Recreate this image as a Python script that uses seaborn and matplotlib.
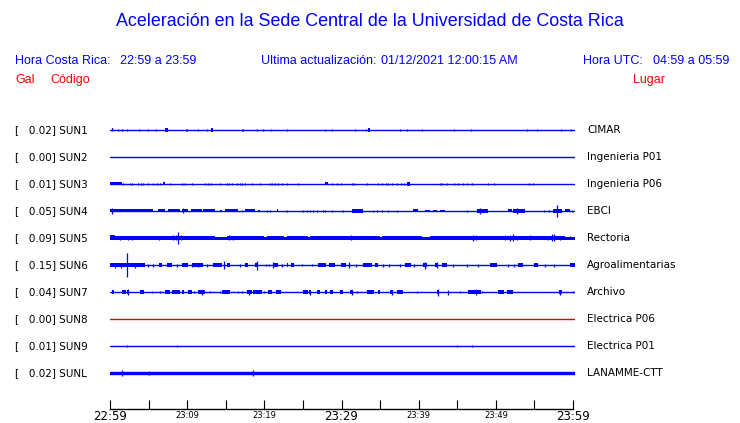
import numpy as np
import pandas as pd
import seaborn as sns
import matplotlib
matplotlib.use("Agg")
import matplotlib.pyplot as plt

# stations (top to bottom)
codes = ["SUN1", "SUN2", "SUN3", "SUN4", "SUN5", "SUN6", "SUN7", "SUN8", "SUN9", "SUNL"]
places = ["CIMAR", "Ingenieria P01", "Ingenieria P06", "EBCI", "Rectoria",
          "Agroalimentarias", "Archivo", "Electrica P06", "Electrica P01", "LANAMME-CTT"]
gal_max = [0.02, 0.00, 0.01, 0.05, 0.09, 0.15, 0.04, 0.00, 0.01, 0.02]
trace_colors = ["blue"] * 7 + ["#dd0000"] + ["blue"] * 2

# time axis (minutes after 22:59)
tick_minutes = list(range(0, 61, 5))
tick_labels = ["22:59", "", "23:09", "", "23:19", "", "23:29", "", "23:39", "", "23:49", "", "23:59"]
big_labels = ["22:59", "23:29", "23:59"]

# half-thickness of the quiet trace (display amplitude)
base_half = [0.6, 0.6, 0.6, 0.6, 1.5, 0.6, 0.6, 0.6, 0.6, 1.7]

# spikes: (minute, half amplitude)
sun1_spikes = [(0.30, 1.5), (1.08, 1.0), (1.59, 1.0), (2.24, 1.3), (3.78, 1.3), (4.95, 1.3),
               (5.94, 1.3), (9.76, 1.3), (9.94, 1.3), (11.40, 1.3), (12.47, 1.0), (16.99, 1.0),
               (17.20, 1.3), (19.01, 1.3), (19.78, 1.3), (20.82, 1.3), (22.88, 1.3), (27.78, 1.3),
               (28.60, 1.0), (31.66, 1.3), (33.08, 1.3), (37.46, 1.0), (38.37, 1.0), (40.30, 1.3),
               (44.43, 1.3), (46.54, 1.3), (53.85, 1.3), (55.14, 1.3), (58.24, 1.3), (59.53, 1.3)]
sun1_bands = [(0.20, 0.45, 1.5), (7.10, 7.45, 2.0), (13.00, 13.25, 2.0), (33.35, 33.60, 2.0)]

sun2_spikes = []
sun2_bands = []

sun3_spikes = [(1.72, 1.2), (2.58, 1.2), (2.80, 1.2), (3.66, 1.2), (4.00, 1.2), (4.30, 1.2),
               (4.95, 1.2), (5.50, 1.2), (6.02, 1.2), (6.45, 1.2), (7.74, 1.0), (9.25, 1.0),
               (9.68, 1.2), (10.62, 1.0), (12.26, 1.2), (12.69, 1.2), (13.03, 1.0), (14.19, 1.2),
               (15.05, 1.2), (15.35, 1.2), (15.70, 1.2), (16.34, 1.2), (16.77, 1.2), (16.99, 1.0),
               (17.42, 1.0), (18.28, 1.2), (19.35, 1.2), (20.65, 1.2), (20.86, 1.2), (21.29, 1.2),
               (21.72, 1.0), (22.15, 1.0), (22.80, 1.2), (24.30, 1.2), (28.60, 1.0), (29.33, 1.2),
               (29.76, 1.2), (31.18, 1.0), (31.48, 1.0), (33.12, 1.2), (34.62, 1.2), (35.05, 1.2),
               (35.61, 1.2), (35.91, 1.2), (36.43, 1.2), (36.99, 1.2), (37.55, 1.2), (37.93, 1.2),
               (42.58, 1.2), (42.88, 1.2), (43.44, 1.0), (44.43, 1.0), (44.95, 1.2), (45.59, 1.2),
               (46.02, 1.2), (46.67, 1.2), (48.73, 1.0), (49.59, 1.2), (54.11, 1.2), (54.62, 1.0)]
sun3_bands = [(0.0, 1.5, 1.5), (6.90, 7.10, 1.5), (27.80, 28.10, 1.5), (38.35, 38.65, 1.8)]

sun4_spikes = [(0.30, 3.0), (9.38, 2.5), (16.99, 1.3), (20.21, 1.3), (20.64, 1.3), (22.80, 1.3),
               (24.95, 1.3), (25.40, 1.3), (25.80, 1.3), (26.24, 1.3), (26.67, 1.3), (27.53, 1.3),
               (27.74, 1.3), (28.60, 1.3), (30.11, 1.3), (33.98, 1.3), (34.50, 1.3), (35.05, 1.3),
               (35.91, 1.3), (36.99, 1.3), (46.02, 1.3), (47.74, 3.0), (52.47, 3.0), (56.04, 1.3),
               (56.69, 1.3), (57.63, 6.0), (59.57, 1.3)]
sun4_bands = [(0.0, 5.59, 1.5), (6.24, 7.10, 1.5), (7.53, 9.03, 1.5), (9.25, 10.02, 1.5),
              (10.45, 11.83, 1.5), (12.04, 13.55, 1.5), (14.19, 14.41, 1.3), (14.84, 16.56, 1.5),
              (17.42, 18.71, 1.5), (19.14, 19.35, 1.3), (21.50, 21.72, 1.5), (31.18, 32.69, 2.0),
              (39.14, 39.78, 1.5), (40.64, 41.29, 1.3), (41.72, 42.15, 1.3), (42.58, 43.23, 1.3),
              (47.31, 48.82, 2.0), (51.40, 51.83, 1.5), (52.04, 53.55, 2.0), (57.20, 58.28, 2.0),
              (58.71, 59.35, 1.5)]

sun5_spikes = [(1.29, 2.2), (2.37, 2.2), (2.80, 2.0), (6.32, 2.0), (8.17, 2.5), (8.47, 2.5),
               (8.82, 6.0), (9.16, 2.5), (15.35, 2.5), (15.90, 2.0), (31.10, 2.5), (46.88, 3.0),
               (47.18, 2.5), (50.97, 2.5), (51.60, 3.0), (52.04, 3.5), (52.47, 2.0), (54.19, 2.5),
               (56.56, 2.0), (56.99, 3.5), (57.33, 3.5), (58.06, 2.0), (59.35, 1.5)]
sun5_bands = [(0.0, 0.65, 2.5), (0.0, 13.55, 1.5), (15.05, 19.90, 1.5), (20.20, 22.50, 1.5),
              (22.80, 25.50, 1.5), (25.80, 34.80, 1.5), (35.10, 40.20, 1.5), (41.30, 58.70, 1.5)]

sun6_spikes = [(0.65, 2.5), (1.40, 2.5), (2.24, 11.5), (3.20, 2.5), (4.86, 1.5), (5.59, 1.5),
               (8.60, 1.5), (10.62, 2.0), (11.40, 2.0), (12.47, 1.5), (14.75, 4.0), (16.77, 1.5),
               (18.92, 4.5), (20.13, 1.2), (20.52, 1.2), (20.99, 3.0), (22.15, 1.5), (24.73, 1.2),
               (26.02, 1.2), (30.84, 3.0), (31.70, 1.5), (35.27, 1.5), (36.00, 1.5), (37.42, 1.5),
               (39.27, 1.5), (40.64, 3.5), (42.15, 3.0), (44.30, 1.5), (46.02, 1.5), (47.44, 1.5),
               (51.31, 1.5), (52.17, 1.5), (56.13, 1.5), (57.33, 1.5)]
sun6_bands = [(0.0, 4.52, 1.7), (6.32, 6.75, 1.7), (7.31, 7.96, 2.0), (9.25, 10.11, 1.7),
              (10.54, 12.04, 1.7), (13.33, 14.41, 2.0), (15.05, 15.48, 1.7), (17.42, 17.76, 1.7),
              (18.71, 19.14, 1.7), (21.07, 21.63, 1.7), (22.80, 23.01, 1.7), (23.35, 23.78, 1.7),
              (26.88, 27.83, 1.7), (28.26, 29.03, 1.7), (29.81, 30.41, 1.7), (32.69, 33.76, 1.7),
              (34.19, 34.62, 1.7), (38.06, 38.84, 1.7), (40.43, 40.86, 2.0), (41.93, 42.36, 2.0),
              (42.79, 43.44, 1.7), (49.03, 49.89, 1.7), (52.69, 53.33, 1.7), (54.75, 55.18, 1.7),
              (59.35, 60.0, 1.7)]

sun7_spikes = [(2.37, 2.8), (5.38, 1.3), (6.45, 1.3), (10.88, 1.3), (11.83, 2.5), (12.90, 1.3),
               (14.19, 1.3), (16.56, 1.3), (16.99, 1.3), (17.95, 2.5), (19.91, 1.3), (25.80, 2.5),
               (31.20, 2.5), (31.83, 1.3), (36.35, 2.5), (39.57, 1.3), (42.32, 3.5), (43.57, 2.5),
               (45.16, 1.3), (47.18, 3.0), (47.96, 1.3), (58.10, 2.5), (59.78, 1.3)]
sun7_bands = [(0.30, 0.56, 1.6), (1.50, 2.02, 1.6), (2.24, 2.45, 1.6), (3.87, 4.43, 1.6),
              (7.10, 7.74, 1.6), (7.96, 9.03, 1.6), (9.33, 9.59, 1.6), (10.02, 10.62, 1.6),
              (11.31, 12.26, 1.6), (14.50, 15.48, 1.6), (17.63, 18.28, 1.6), (18.50, 19.57, 1.6),
              (20.43, 20.86, 1.6), (21.38, 22.06, 1.6), (24.95, 25.50, 1.6), (25.68, 25.94, 1.6),
              (26.67, 27.10, 1.6), (27.74, 27.96, 1.6), (28.43, 28.77, 1.6), (29.68, 30.11, 1.6),
              (30.97, 31.40, 1.6), (33.12, 34.11, 1.6), (34.54, 34.84, 1.6), (36.13, 36.56, 1.6),
              (36.99, 37.85, 1.6), (42.15, 42.49, 2.0), (46.24, 47.87, 1.8), (50.02, 50.88, 1.6),
              (51.18, 52.04, 1.6), (57.93, 58.28, 1.6)]

sun8_spikes = []
sun8_bands = []

sun9_spikes = [(2.15, 1.2), (8.69, 1.2), (44.73, 1.2), (46.67, 1.2)]
sun9_bands = []

sunl_spikes = [(1.50, 2.8), (5.08, 2.2), (18.50, 3.0)]
sunl_bands = []

all_spikes = [sun1_spikes, sun2_spikes, sun3_spikes, sun4_spikes, sun5_spikes,
              sun6_spikes, sun7_spikes, sun8_spikes, sun9_spikes, sunl_spikes]
all_bands = [sun1_bands, sun2_bands, sun3_bands, sun4_bands, sun5_bands,
             sun6_bands, sun7_bands, sun8_bands, sun9_bands, sunl_bands]

sns.set_theme(style="white")
plt.rcParams["font.family"] = ["DejaVu Sans"]

W, H = 740, 423
fig = plt.figure(figsize=(W / 100, H / 100), dpi=100)

# trace axes: x 110..575 px, y 115..388 px; one y unit = one pixel
ax = fig.add_axes([110 / W, 1 - 388 / H, 465 / W, 273 / H])
spacing = 27
ax.set_xlim(0, 60)
ax.set_ylim(273 - 15, -15)
ax.axis("off")

for i, code in enumerate(codes):
    c = i * spacing
    col = trace_colors[i]
    line_df = pd.DataFrame({"t": [0, 60], "y": [c, c]})
    sns.lineplot(data=line_df, x="t", y="y", ax=ax, color=col,
                 linewidth=max(base_half[i] * 2 * 0.72, 1.0))
    for s, e, h in all_bands[i]:
        ax.fill_between([s, e], c - h, c + h, color=col, linewidth=0)
    if all_spikes[i]:
        t = [p[0] for p in all_spikes[i]]
        a = [p[1] for p in all_spikes[i]]
        ax.vlines(t, [c - v for v in a], [c + v for v in a], color=col, linewidth=0.9)

    ypos = 1 - (130 + i * spacing) / H
    fig.text(15 / W, ypos, f"[   {gal_max[i]:.2f}] {code}", fontsize=7.5,
             color="black", va="center", ha="left")
    fig.text(587 / W, ypos, places[i], fontsize=7.5, color="black", va="center", ha="left")

# time axis: spine at y=409 px, ticks pointing up, labels drawn below
tax = fig.add_axes([110 / W, 1 - 409 / H, 463 / W, 12 / H])
tax.set_xlim(0, 60)
tax.set_yticks([])
for side in ["top", "left", "right"]:
    tax.spines[side].set_visible(False)
tax.spines["bottom"].set_color("black")
tax.spines["bottom"].set_linewidth(1.0)
tax.set_xticks(tick_minutes)
tax.set_xticklabels([])
tax.tick_params(axis="x", direction="in", length=6.5, width=0.8, color="black", bottom=True)
for m, lab in zip(tick_minutes, tick_labels):
    if not lab:
        continue
    xf = (110 + m / 60 * 463) / W
    if lab in big_labels:
        fig.text(xf, 1 - 420 / H, lab, fontsize=8.5, ha="center", va="baseline", color="black")
    else:
        fig.text(xf, 1 - 418 / H, lab, fontsize=6, ha="center", va="baseline", color="black")

# header
hf = ["Liberation Sans", "DejaVu Sans"]
fig.text(0.5, 1 - 22 / H, "Aceleración en la Sede Central de la Universidad de Costa Rica",
         family=hf, fontsize=12.9, color="blue", ha="center", va="center")
row2 = 1 - 61 / H
fig.text(15 / W, row2, "Hora Costa Rica:", family=hf, fontsize=9, color="blue", va="center")
fig.text(120 / W, row2, "22:59 a 23:59", family=hf, fontsize=9, color="blue", va="center")
fig.text(261 / W, row2, "Ultima actualización:", family=hf, fontsize=9, color="blue", va="center")
fig.text(381 / W, row2, "01/12/2021 12:00:15 AM", family=hf, fontsize=9, color="blue", va="center")
fig.text(583 / W, row2, "Hora UTC:", family=hf, fontsize=9, color="blue", va="center")
fig.text(653 / W, row2, "04:59 a 05:59", family=hf, fontsize=9, color="blue", va="center")
row3 = 1 - 80 / H
fig.text(15 / W, row3, "Gal", family=hf, fontsize=9, color="red", va="center")
fig.text(50 / W, row3, "Código", family=hf, fontsize=9, color="red", va="center")
fig.text(633 / W, row3, "Lugar", family=hf, fontsize=9, color="red", va="center")

fig.savefig("out.png", dpi=100, facecolor="white")
